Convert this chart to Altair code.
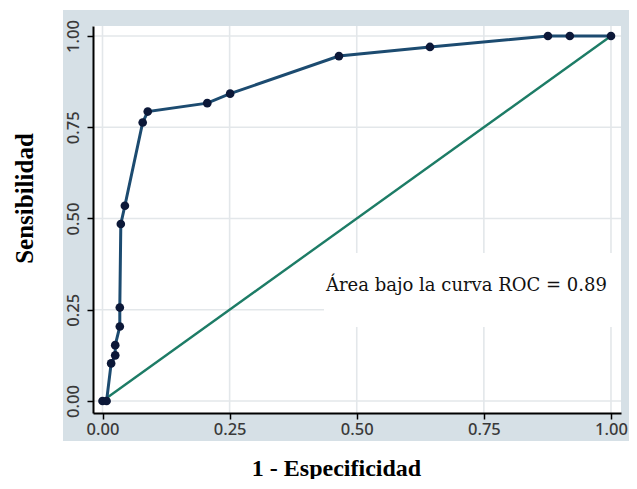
import altair as alt
import pandas as pd

# ROC curve points (1 - especificidad, sensibilidad)
fpr = [0.0, 0.008, 0.017, 0.025, 0.025, 0.034, 0.034, 0.036, 0.044, 0.079,
       0.089, 0.206, 0.251, 0.465, 0.644, 0.876, 0.919, 1.0]
tpr = [0.0, 0.0, 0.103, 0.125, 0.153, 0.204, 0.256, 0.485, 0.535, 0.763,
       0.793, 0.816, 0.842, 0.945, 0.970, 1.0, 1.0, 1.0]
diag_x = [0.0, 1.0]
diag_y = [0.0, 1.0]
tick_values = [0.0, 0.25, 0.5, 0.75, 1.0]
annotation = ["Área bajo la curva ROC = 0.89"]

W, H = 528, 387
BG = "#d6e0e6"
LINE = "#1c4b70"
DOT = "#0c1838"
DIAG = "#1d7c66"
GRID = "#e3e7ea"

roc = pd.DataFrame({"x": fpr, "y": tpr, "i": list(range(len(fpr)))})
diag = pd.DataFrame({"x": diag_x, "y": diag_y})
ticks = pd.DataFrame({"x": tick_values, "y": tick_values})
one = pd.DataFrame({"a": [0]})
ann = pd.DataFrame({"label": annotation})

xs = alt.Scale(domain=[-0.0187, 1.0197], nice=False, zero=False)
ys = alt.Scale(domain=[-0.0329, 1.0274], nice=False, zero=False)

LBL = dict(labelFont="Noto Sans", labelFontSize=16.5, labelColor="#3a3a3a",
           labelFontWeight=500, labelFlush=False)

xaxis = alt.Axis(values=tick_values, format=".2f", grid=False, zindex=1,
                 domainColor="black", domainWidth=2, tickColor="black", tickWidth=1.5,
                 tickSize=6, labelPadding=2, **LBL,
                 title="1 - Especificidad", titleFont="Liberation Serif", titleFontSize=24,
                 titleFontWeight="bold", titleColor="black", titleX=243, titleY=55,
                 titleAlign="center", titleBaseline="middle")
yaxis = alt.Axis(values=tick_values, format=".2f", grid=False, zindex=1,
                 domainColor="black", domainWidth=2, tickColor="black", tickWidth=1.5,
                 tickSize=6, labelPadding=6, labelAngle=270, labelAlign="center",
                 labelBaseline="bottom", **LBL,
                 title="Sensibilidad", titleFont="Liberation Serif", titleFontSize=25,
                 titleFontWeight="bold", titleColor="black", titleX=-69, titleY=172,
                 titleAngle=270, titleAlign="center", titleBaseline="middle")

X = alt.X("x:Q", scale=xs, axis=xaxis)
Y = alt.Y("y:Q", scale=ys, axis=yaxis)

bg = alt.Chart(one).mark_rect(color=BG).encode(
    x=alt.value(-30), x2=alt.value(W + 12), y=alt.value(-16), y2=alt.value(H + 28))
plotbg = alt.Chart(one).mark_rect(color="white").encode(
    x=alt.value(0), x2=alt.value(W), y=alt.value(0), y2=alt.value(H))

vgrid = alt.Chart(ticks).mark_rule(color=GRID, strokeWidth=1.6).encode(
    x=X, y=alt.value(0), y2=alt.value(H))
hgrid = alt.Chart(ticks).mark_rule(color=GRID, strokeWidth=1.6).encode(
    y=Y, x=alt.value(0), x2=alt.value(W))

diag_line = alt.Chart(diag).mark_line(color=DIAG, strokeWidth=2.4).encode(x=X, y=Y)

roc_line = alt.Chart(roc).mark_line(color=LINE, strokeWidth=3).encode(
    x=X, y=Y, order="i:Q")
roc_pts = alt.Chart(roc).mark_point(filled=True, color=DOT, size=75, opacity=1).encode(
    x=X, y=Y)

box = alt.Chart(one).mark_rect(color="white").encode(
    x=alt.value(231), x2=alt.value(W), y=alt.value(227), y2=alt.value(301))
text = alt.Chart(ann).mark_text(font="DejaVu Serif", fontSize=18, color="#111111",
                                align="left", baseline="middle").encode(
    text="label:N", x=alt.value(233), y=alt.value(260))

chart = alt.layer(bg, plotbg, vgrid, hgrid, box, diag_line, roc_line, roc_pts, text).properties(
    width=W, height=H,
    autosize=alt.AutoSizeParams(type="none"),
    padding={"left": 85, "top": 18, "right": 8, "bottom": 66},
    background="white",
).configure_view(stroke=None)

chart.save("out.html", embed_options={"renderer": "svg", "actions": False})
